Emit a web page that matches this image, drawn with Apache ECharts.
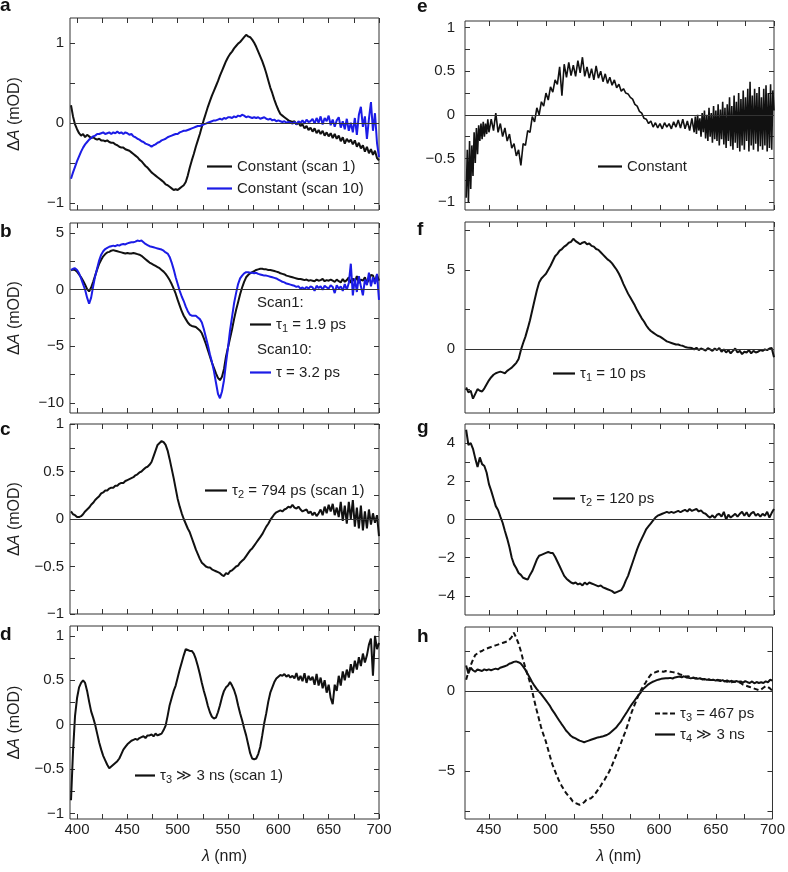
<!DOCTYPE html>
<html><head><meta charset="utf-8">
<script src="https://cdn.jsdelivr.net/npm/echarts@6/dist/echarts.min.js"></script>
<style>html,body{margin:0;padding:0;background:#fff}#c{width:788px;height:872px}</style>
</head><body><div id="c"></div>
<script>
// ---------- wavelength grids (nm) ----------
const wlLeft = [
394,396,398,400,402,404,406,408,410,412,
414,416,418,420,422,424,426,428,430,432,
434,436,438,440,442,444,446,448,450,452,
454,456,458,460,462,464,466,468,470,472,
474,476,478,480,482,484,486,488,490,492,
494,496,498,500,502,504,506,508,510,512,
514,516,518,520,522,524,526,528,530,532,
534,536,538,540,542,544,546,548,550,552,
554,556,558,560,562,564,566,568,570,572,
574,576,578,580,582,584,586,588,590,592,
594,596,598,600,602,604,606,608,610,612,
614,616,618,620,622,624,626,628,630,632,
634,636,638,640,642,644,646,648,650,652,
654,656,658,660,662,664,666,668,670,672,
674,676,678,680,682,684,686,688,690,692,
694,696,698,700];
const wlRight = [
430,432,434,436,438,440,442,444,446,448,
450,452,454,456,458,460,462,464,466,468,
470,472,474,476,478,480,482,484,486,488,
490,492,494,496,498,500,502,504,506,508,
510,512,514,516,518,520,522,524,526,528,
530,532,534,536,538,540,542,544,546,548,
550,552,554,556,558,560,562,564,566,568,
570,572,574,576,578,580,582,584,586,588,
590,592,594,596,598,600,602,604,606,608,
610,612,614,616,618,620,622,624,626,628,
630,632,634,636,638,640,642,644,646,648,
650,652,654,656,658,660,662,664,666,668,
670,672,674,676,678,680,682,684,686,688,
690,692,694,696,698,700];
// finer grid for the very noisy "Constant" spectrum of panel e
const wlE = [
430,431,432,433,434,435,436,437,438,439,440,441,442,443,444,445,446,447,448,449,450,
452,454,456,458,460,462,464,466,468,
470,472,474,476,478,480,482,484,486,488,
490,492,494,496,498,500,502,504,506,508,
510,512,514,516,518,520,522,524,526,528,
530,532,534,536,538,540,542,544,546,548,
550,552,554,556,558,560,562,564,566,568,
570,572,574,576,578,580,582,584,586,588,
590,592,594,596,598,600,602,604,606,608,
610,612,614,616,618,620,622,624,626,628,
629,630,631,632,633,634,635,636,637,638,639,
640,641,642,643,644,645,646,647,648,649,
650,651,652,653,654,655,656,657,658,659,
660,661,662,663,664,665,666,667,668,669,
670,671,672,673,674,675,676,677,678,679,
680,681,682,683,684,685,686,687,688,689,
690,691,692,693,694,695,696,697,698,699,700];

// ---------- tick values / labels ----------
const xTicksLeft = [400,425,450,475,500,525,550,575,600,625,650,675,700];
const xLabelsLeft = [400,450,500,550,600,650,700];
const xTicksRight = [450,475,500,525,550,575,600,625,650,675,700];
const xLabelsRight = [450,500,550,600,650,700];
const yTicksA = [-1,-0.5,0,0.5,1];            const yLabelsA = [-1,0,1];
const yTicksB = [-10,-7.5,-5,-2.5,0,2.5,5];   const yLabelsB = [-10,-5,0,5];
const yTicksQ = [-1,-0.75,-0.5,-0.25,0,0.25,0.5,0.75,1]; const yLabelsQ = [-1,-0.5,0,0.5,1];
const yTicksF = [-2.5,0,2.5,5,7.5];           const yLabelsF = [0,5];
const yTicksG = [-4,-3,-2,-1,0,1,2,3,4];      const yLabelsG = [-4,-2,0,2,4];
const yTicksH = [-7.5,-5,-2.5,0,2.5];         const yLabelsH = [-5,0];

// ---------- series values (mOD) ----------
const aScan1 = [
0.22,0.08,-0.02,-0.08,-0.13,-0.16,-0.14,-0.18,-0.15,-0.17,
-0.19,-0.18,-0.2,-0.21,-0.2,-0.22,-0.22,-0.23,-0.22,-0.24,
-0.25,-0.25,-0.27,-0.28,-0.3,-0.31,-0.31,-0.33,-0.34,-0.35,
-0.37,-0.39,-0.41,-0.43,-0.46,-0.48,-0.51,-0.54,-0.56,-0.59,
-0.62,-0.64,-0.66,-0.68,-0.7,-0.72,-0.74,-0.77,-0.78,-0.8,
-0.82,-0.84,-0.83,-0.84,-0.82,-0.8,-0.78,-0.74,-0.66,-0.56,
-0.47,-0.39,-0.3,-0.22,-0.14,-0.05,0.04,0.12,0.2,0.27,
0.34,0.4,0.46,0.52,0.59,0.65,0.71,0.77,0.82,0.86,
0.89,0.93,0.96,0.99,1.01,1.04,1.07,1.1,1.08,1.07,
1.04,1.0,0.95,0.89,0.83,0.77,0.7,0.62,0.53,0.44,
0.37,0.29,0.22,0.16,0.11,0.09,0.07,0.05,0.03,0.02,
0.01,0.02,-0.02,0.0,-0.04,-0.02,-0.07,-0.04,-0.09,-0.06,
-0.11,-0.07,-0.13,-0.09,-0.14,-0.1,-0.16,-0.12,-0.17,-0.13,
-0.19,-0.14,-0.2,-0.16,-0.23,-0.18,-0.26,-0.2,-0.24,-0.21,
-0.27,-0.22,-0.3,-0.25,-0.32,-0.28,-0.36,-0.3,-0.38,-0.33,
-0.4,-0.35,-0.44,-0.47];
const aScan10 = [
-0.7,-0.62,-0.55,-0.48,-0.42,-0.36,-0.31,-0.27,-0.24,-0.21,
-0.19,-0.17,-0.16,-0.14,-0.14,-0.13,-0.12,-0.14,-0.13,-0.12,
-0.14,-0.12,-0.13,-0.11,-0.13,-0.12,-0.14,-0.12,-0.13,-0.15,
-0.14,-0.17,-0.18,-0.2,-0.21,-0.23,-0.24,-0.26,-0.27,-0.28,
-0.3,-0.28,-0.27,-0.25,-0.24,-0.22,-0.21,-0.2,-0.18,-0.17,
-0.16,-0.15,-0.14,-0.14,-0.12,-0.11,-0.1,-0.1,-0.09,-0.08,
-0.07,-0.06,-0.05,-0.04,-0.04,-0.03,-0.02,-0.01,0.0,0.01,
0.02,0.03,0.03,0.04,0.05,0.04,0.06,0.05,0.07,0.07,
0.06,0.08,0.07,0.09,0.08,0.1,0.09,0.07,0.08,0.07,
0.06,0.07,0.06,0.07,0.05,0.06,0.07,0.05,0.04,0.05,
0.03,0.04,0.02,0.03,0.02,0.01,0.02,0.0,0.01,0.0,
-0.01,0.01,-0.02,0.02,0.0,0.03,-0.01,0.04,0.01,0.02,
0.05,-0.01,0.06,0.0,0.08,-0.02,0.06,0.02,0.09,-0.03,
0.04,-0.05,0.03,0.07,-0.06,0.02,-0.08,0.05,-0.1,0.0,
-0.12,0.06,-0.15,0.1,0.2,-0.05,0.08,-0.2,0.05,0.26,
-0.1,0.12,-0.25,-0.43];
const bScan1 = [
1.72,1.78,1.74,1.6,1.35,1.1,0.8,0.45,0.05,-0.15,
0.2,0.7,1.25,1.8,2.3,2.65,2.95,3.15,3.3,3.35,
3.45,3.5,3.45,3.4,3.35,3.3,3.25,3.2,3.25,3.2,
3.2,3.25,3.2,3.15,3.1,3.0,2.85,2.7,2.55,2.4,
2.3,2.2,2.1,2.0,1.9,1.75,1.6,1.4,1.15,0.85,
0.5,0.1,-0.35,-0.9,-1.4,-1.9,-2.3,-2.6,-2.9,-3.1,
-3.2,-3.25,-3.3,-3.45,-3.6,-3.85,-4.3,-4.8,-5.35,-5.9,
-6.45,-6.9,-7.4,-7.8,-8.0,-7.7,-7.0,-5.9,-5.1,-4.3,
-3.5,-2.6,-1.8,-1.1,-0.4,0.2,0.7,1.1,1.3,1.45,
1.55,1.65,1.75,1.8,1.85,1.85,1.8,1.8,1.75,1.75,
1.7,1.65,1.6,1.55,1.45,1.4,1.35,1.25,1.2,1.15,
1.1,1.05,1.0,0.95,0.95,0.9,0.85,0.9,0.8,0.85,
0.8,0.75,0.9,0.8,0.85,0.95,0.75,0.85,0.8,0.9,
0.8,0.7,0.9,0.75,0.65,0.95,0.7,0.85,1.1,0.6,
1.0,0.7,1.2,0.6,0.9,0.8,1.1,0.6,0.9,1.3,
1.26,0.7,1.3,0.8];
const bScan10 = [
1.75,1.85,1.9,1.75,1.45,1.0,0.5,0.0,-0.7,-1.24,
-0.7,0.3,1.2,1.9,2.6,3.1,3.4,3.6,3.7,3.8,
3.85,3.9,3.85,3.95,3.9,4.0,4.05,4.0,4.1,4.15,
4.2,4.2,4.25,4.35,4.3,4.35,4.2,4.05,3.95,3.85,
3.8,3.75,3.7,3.65,3.6,3.55,3.45,3.3,3.2,2.9,
2.4,1.8,1.1,0.5,-0.1,-0.6,-1.0,-1.5,-1.9,-2.2,
-2.3,-2.3,-2.3,-2.45,-2.6,-2.9,-3.5,-4.2,-4.9,-5.7,
-6.4,-7.2,-8.2,-9.2,-9.6,-9.0,-8.0,-6.5,-5.1,-3.6,
-2.4,-1.2,-0.3,0.5,1.0,1.25,1.45,1.55,1.55,1.5,
1.5,1.45,1.5,1.4,1.35,1.3,1.25,1.25,1.2,1.15,
1.1,1.05,1.0,0.9,0.8,0.7,0.65,0.55,0.5,0.45,
0.4,0.35,0.25,0.3,0.1,0.2,0.05,0.25,0.1,0.3,
0.2,-0.1,0.35,0.15,0.3,0.0,0.35,0.2,0.1,0.4,
0.25,-0.3,0.4,0.1,0.3,-0.1,0.5,0.0,0.6,2.3,
-0.5,1.0,-0.2,1.2,0.3,-0.5,0.9,0.4,1.5,0.3,
1.1,0.5,1.4,-0.9];
const cTau2 = [
0.08,0.05,0.04,0.02,0.02,0.03,0.05,0.08,0.1,0.12,
0.15,0.17,0.2,0.22,0.24,0.27,0.28,0.3,0.3,0.32,
0.33,0.33,0.35,0.35,0.37,0.38,0.38,0.4,0.41,0.42,
0.43,0.44,0.46,0.47,0.49,0.5,0.52,0.54,0.55,0.57,
0.6,0.66,0.72,0.78,0.8,0.82,0.81,0.78,0.72,0.63,
0.53,0.43,0.32,0.21,0.13,0.06,0.0,-0.05,-0.1,-0.14,
-0.2,-0.26,-0.32,-0.37,-0.42,-0.46,-0.48,-0.5,-0.51,-0.51,
-0.53,-0.54,-0.55,-0.56,-0.57,-0.59,-0.6,-0.57,-0.58,-0.55,
-0.54,-0.52,-0.5,-0.49,-0.46,-0.44,-0.42,-0.39,-0.36,-0.33,
-0.31,-0.28,-0.25,-0.22,-0.19,-0.16,-0.12,-0.08,-0.05,-0.01,
0.02,0.05,0.07,0.08,0.09,0.08,0.1,0.11,0.13,0.12,
0.15,0.12,0.11,0.13,0.1,0.08,0.09,0.1,0.06,0.08,
0.04,0.07,0.03,0.06,0.1,0.04,0.13,0.06,0.15,0.08,
0.16,0.04,0.12,0.02,0.18,-0.02,0.14,-0.05,0.18,0.0,
0.2,-0.08,0.12,-0.1,0.14,-0.12,0.08,-0.1,0.1,-0.06,
0.06,-0.04,0.04,-0.18];
const dTau3 = [
-0.85,-0.3,0.1,0.3,0.42,0.47,0.5,0.47,0.38,0.26,
0.15,0.08,0.0,-0.1,-0.2,-0.28,-0.35,-0.4,-0.45,-0.49,
-0.47,-0.45,-0.43,-0.41,-0.38,-0.33,-0.28,-0.25,-0.22,-0.2,
-0.18,-0.17,-0.16,-0.17,-0.15,-0.14,-0.13,-0.15,-0.12,-0.12,
-0.11,-0.13,-0.1,-0.12,-0.11,-0.1,-0.06,-0.01,0.1,0.22,
0.3,0.38,0.44,0.53,0.62,0.7,0.78,0.85,0.84,0.83,
0.83,0.8,0.74,0.66,0.57,0.47,0.38,0.3,0.21,0.14,
0.09,0.07,0.08,0.14,0.22,0.31,0.38,0.42,0.44,0.48,
0.44,0.39,0.32,0.22,0.13,0.05,-0.04,-0.12,-0.22,-0.32,
-0.38,-0.39,-0.38,-0.33,-0.25,-0.12,0.02,0.13,0.26,0.36,
0.42,0.48,0.52,0.54,0.56,0.55,0.57,0.54,0.56,0.53,
0.55,0.52,0.58,0.5,0.55,0.49,0.58,0.47,0.55,0.5,
0.54,0.45,0.57,0.44,0.53,0.41,0.5,0.36,0.45,0.3,
0.23,0.45,0.38,0.55,0.44,0.6,0.5,0.62,0.53,0.68,
0.58,0.72,0.62,0.76,0.66,0.8,0.7,0.78,0.9,0.97,
0.55,1.0,0.85,0.92];
const eConst = [
-0.95,-0.4,-1.0,-0.3,-0.85,-0.35,-0.7,-0.2,-0.55,-0.15,-0.45,-0.12,-0.3,-0.1,-0.28,-0.08,-0.25,-0.1,-0.22,-0.05,-0.2,
-0.05,-0.18,0.02,-0.2,-0.1,-0.25,-0.15,-0.3,-0.22,
-0.38,-0.33,-0.47,-0.4,-0.58,-0.33,-0.35,-0.18,-0.2,-0.02,
-0.08,0.08,0.0,0.15,0.1,0.25,0.17,0.32,0.26,0.4,
0.35,0.55,0.22,0.58,0.43,0.6,0.45,0.57,0.44,0.62,
0.48,0.66,0.44,0.55,0.42,0.53,0.4,0.56,0.42,0.5,
0.38,0.47,0.36,0.43,0.34,0.4,0.31,0.35,0.27,0.3,
0.25,0.24,0.2,0.18,0.12,0.1,0.04,0.02,-0.04,-0.05,
-0.1,-0.07,-0.14,-0.09,-0.15,-0.1,-0.16,-0.09,-0.14,-0.1,
-0.16,-0.08,-0.14,-0.06,-0.15,-0.05,-0.16,-0.07,-0.18,-0.04,
-0.12,-0.2,-0.02,-0.22,0.0,-0.18,-0.04,-0.25,0.02,-0.2,0.05,
-0.27,0.0,-0.3,0.08,-0.25,0.02,-0.32,0.1,-0.28,0.05,
-0.3,0.12,-0.35,0.06,-0.28,0.15,-0.34,0.08,-0.38,0.12,
-0.3,0.2,-0.36,0.1,-0.4,0.22,-0.32,0.15,-0.38,0.25,
-0.42,0.18,-0.35,0.28,-0.4,0.2,-0.3,0.3,-0.42,0.38,
-0.35,0.22,-0.4,0.3,-0.33,0.25,-0.42,0.32,-0.36,0.2,
-0.4,0.3,-0.35,0.34,-0.42,0.25,-0.38,0.35,-0.4,0.28,0.05];
const fTau1 = [
-2.4,-2.7,-2.6,-3.1,-2.8,-2.5,-2.6,-2.65,-2.45,-2.2,
-1.95,-1.75,-1.6,-1.5,-1.45,-1.4,-1.45,-1.5,-1.35,-1.25,
-1.15,-1.0,-0.85,-0.6,-0.05,0.4,0.8,1.3,1.83,2.45,
3.08,3.7,4.2,4.45,4.6,4.75,5.0,5.25,5.55,5.85,
6.0,6.2,6.3,6.45,6.55,6.7,6.75,6.95,6.8,6.7,
6.6,6.7,6.75,6.6,6.65,6.5,6.45,6.3,6.25,6.1,
5.95,5.8,5.65,5.55,5.4,5.2,5.0,4.75,4.45,4.1,
3.8,3.5,3.25,3.0,2.75,2.45,2.2,1.95,1.75,1.5,
1.3,1.15,1.05,0.95,0.85,0.8,0.7,0.6,0.5,0.45,
0.4,0.35,0.3,0.3,0.25,0.22,0.15,0.12,0.1,0.08,
0.0,0.1,-0.05,0.05,0.0,-0.08,0.08,0.0,-0.1,0.05,
-0.05,0.08,-0.15,0.0,-0.2,-0.05,-0.25,-0.1,0.05,-0.2,
-0.1,-0.3,-0.15,-0.2,-0.05,-0.25,-0.1,-0.2,-0.15,-0.05,
-0.1,0.0,-0.05,0.05,0.08,-0.5];
const gTau2 = [
4.7,3.9,4.0,3.7,3.2,2.75,3.25,2.9,2.8,2.45,
1.85,1.5,1.1,0.7,0.5,0.15,-0.17,-0.6,-1.0,-1.45,
-2.0,-2.35,-2.55,-2.8,-2.9,-3.05,-3.1,-3.15,-2.9,-2.7,
-2.4,-2.1,-1.9,-1.85,-1.8,-1.75,-1.7,-1.75,-1.75,-1.95,
-2.2,-2.45,-2.7,-2.95,-3.1,-3.2,-3.3,-3.35,-3.3,-3.4,
-3.35,-3.45,-3.3,-3.4,-3.3,-3.35,-3.4,-3.45,-3.5,-3.45,
-3.55,-3.6,-3.65,-3.7,-3.75,-3.85,-3.8,-3.75,-3.7,-3.5,
-3.2,-2.95,-2.6,-2.25,-1.9,-1.55,-1.25,-1.0,-0.75,-0.5,
-0.35,-0.2,-0.05,0.1,0.2,0.25,0.3,0.35,0.4,0.35,
0.4,0.35,0.4,0.45,0.38,0.45,0.5,0.42,0.55,0.45,
0.5,0.55,0.42,0.48,0.35,0.3,0.18,0.1,0.22,0.08,
0.25,0.3,0.15,0.4,0.0,0.25,0.1,0.2,0.3,0.15,
0.3,0.4,0.2,0.38,0.15,0.32,0.4,0.2,0.3,0.15,
0.3,0.2,0.4,0.1,0.35,0.55];
const hTau3 = [
0.7,1.2,1.6,1.95,2.25,2.35,2.45,2.5,2.6,2.65,
2.7,2.75,2.8,2.85,2.9,2.95,3.0,3.05,3.1,3.2,
3.35,3.65,3.35,3.0,2.55,2.0,1.5,1.05,0.6,0.05,
-0.57,-1.15,-1.7,-2.25,-2.7,-3.1,-3.6,-4.1,-4.58,-4.95,
-5.3,-5.63,-5.9,-6.15,-6.37,-6.55,-6.7,-6.9,-7.0,-7.05,
-7.11,-7.05,-6.95,-6.8,-6.75,-6.7,-6.58,-6.4,-6.2,-6.0,
-5.75,-5.55,-5.3,-5.05,-4.75,-4.4,-4.05,-3.7,-3.35,-2.95,
-2.6,-2.2,-1.75,-1.3,-0.95,-0.6,-0.25,0.05,0.3,0.5,
0.75,0.95,1.1,1.15,1.2,1.25,1.22,1.2,1.25,1.22,
1.2,1.18,1.15,1.12,1.05,1.0,0.95,0.9,0.92,0.85,
0.85,0.8,0.82,0.78,0.75,0.72,0.7,0.72,0.68,0.7,
0.7,0.65,0.68,0.6,0.62,0.58,0.6,0.55,0.6,0.58,
0.55,0.5,0.4,0.35,0.3,0.25,0.2,0.15,0.1,0.05,
0.1,0.2,0.3,0.25,0.15,0.0];
const hTau4 = [
1.6,1.1,1.45,1.3,1.2,1.35,1.3,1.25,1.35,1.3,
1.35,1.3,1.35,1.4,1.35,1.45,1.5,1.55,1.6,1.7,
1.75,1.82,1.85,1.8,1.72,1.55,1.35,1.1,0.85,0.58,
0.35,0.15,-0.02,-0.18,-0.37,-0.55,-0.75,-0.95,-1.2,-1.4,
-1.62,-1.84,-2.05,-2.25,-2.47,-2.62,-2.78,-2.89,-2.95,-3.03,
-3.1,-3.15,-3.2,-3.15,-3.1,-3.05,-3.0,-2.95,-2.9,-2.88,
-2.85,-2.8,-2.75,-2.67,-2.55,-2.42,-2.3,-2.12,-1.95,-1.72,
-1.5,-1.28,-1.05,-0.83,-0.64,-0.45,-0.25,-0.08,0.12,0.25,
0.38,0.48,0.56,0.62,0.68,0.72,0.76,0.78,0.8,0.8,
0.82,0.78,0.85,0.88,0.9,0.86,0.92,0.85,0.82,0.8,
0.82,0.78,0.76,0.8,0.72,0.76,0.7,0.72,0.68,0.7,
0.65,0.7,0.62,0.68,0.6,0.66,0.58,0.64,0.55,0.62,
0.58,0.6,0.52,0.62,0.55,0.5,0.6,0.48,0.56,0.5,
0.55,0.5,0.6,0.55,0.7,0.65];

// ---------- styling ----------
const FONT = '"Liberation Sans", Arial, Helvetica, sans-serif';
const TXT = '#1e1e1e';
const AX = '#333333';
const BLACK = '#111111';
const BLUE = '#1c1ce6';

const panels = [
  {letter:'a', col:'L', top:18,  h:192, yMin:-1.09, yMax:1.31, yT:yTicksA, yL:yLabelsA, xLab:false},
  {letter:'b', col:'L', top:223, h:190, yMin:-10.9, yMax:5.9,  yT:yTicksB, yL:yLabelsB, xLab:false},
  {letter:'c', col:'L', top:424, h:190, yMin:-1,    yMax:1,    yT:yTicksQ, yL:yLabelsQ, xLab:false},
  {letter:'d', col:'L', top:626, h:193, yMin:-1.06, yMax:1.11, yT:yTicksQ, yL:yLabelsQ, xLab:true},
  {letter:'e', col:'R', top:21,  h:189, yMin:-1.09, yMax:1.075,yT:yTicksQ, yL:yLabelsQ, xLab:false},
  {letter:'f', col:'R', top:222, h:191, yMin:-4,    yMax:8,    yT:yTicksF, yL:yLabelsF, xLab:false},
  {letter:'g', col:'R', top:424, h:191, yMin:-5,    yMax:5,    yT:yTicksG, yL:yLabelsG, xLab:false},
  {letter:'h', col:'R', top:627, h:192, yMin:-8,    yMax:4,    yT:yTicksH, yL:yLabelsH, xLab:true}
];

const fmt = v => String(v).replace('-', '\u2212');
const tick = vals => ({show:true, inside:true, length:5, customValues:vals, lineStyle:{color:AX, width:1}});
const lblStyle = {fontSize:15, color:TXT, fontFamily:FONT};
const nameRich = {
  i:{fontStyle:'italic', fontSize:16, color:TXT, fontFamily:FONT},
  n:{fontSize:16, color:TXT, fontFamily:FONT}
};

const grids = [], xAxes = [], yAxes = [];
panels.forEach((p, i) => {
  const L = p.col === 'L';
  const xMin = L ? 393 : 429;
  const xT = L ? xTicksLeft : xTicksRight;
  const xL = L ? xLabelsLeft : xLabelsRight;
  grids.push({left: L ? 70 : 465, top:p.top, width:309, height:p.h, show:true,
              borderColor:AX, borderWidth:1, backgroundColor:'transparent'});
  const xb = {type:'value', gridIndex:i, position:'bottom', min:xMin, max:700,
    axisLine:{show:false, onZero:false}, splitLine:{show:false}, axisTick:tick(xT),
    axisLabel: p.xLab ? Object.assign({show:true, customValues:xL, margin:3, formatter:fmt}, lblStyle) : {show:false}};
  if (p.xLab) {
    xb.name = '{i|\u03bb}{n| (nm)}';
    xb.nameLocation = 'middle';
    xb.nameGap = 30;
    xb.nameTextStyle = {fontSize:16, color:TXT, fontFamily:FONT, rich:nameRich};
  }
  xAxes.push(xb);
  xAxes.push({type:'value', gridIndex:i, position:'top', min:xMin, max:700,
    axisLine:{show:false, onZero:false}, splitLine:{show:false}, axisTick:tick(xT), axisLabel:{show:false}});
  const yl = {type:'value', gridIndex:i, position:'left', min:p.yMin, max:p.yMax,
    axisLine:{show:false, onZero:false}, splitLine:{show:false}, axisTick:tick(p.yT),
    axisLabel:Object.assign({show:true, customValues:p.yL, margin: L ? 6 : 10, formatter:fmt}, lblStyle)};
  if (L) {
    yl.name = '{n|\u0394}{i|A}{n| (mOD)}';
    yl.nameLocation = 'middle';
    yl.nameGap = 47;
    yl.nameRotate = 90;
    yl.nameTextStyle = {fontSize:16, color:TXT, fontFamily:FONT, rich:nameRich};
  }
  yAxes.push(yl);
  yAxes.push({type:'value', gridIndex:i, position:'right', min:p.yMin, max:p.yMax,
    axisLine:{show:false, onZero:false}, splitLine:{show:false}, axisTick:tick(p.yT), axisLabel:{show:false}});
});

const zeroLine = {silent:true, symbol:'none', animation:false, label:{show:false},
  lineStyle:{color:AX, width:1, type:'solid'}, data:[{yAxis:0}]};

function line(name, panel, wl, vals, color, dashed, withZero, width) {
  const s = {name, type:'line', xAxisIndex:panel*2, yAxisIndex:panel*2,
    data: wl.map((x, k) => [x, vals[k]]), symbol:'none', showSymbol:false,
    lineStyle:{color, width: width || 2, type: dashed ? [5,3] : 'solid'}, itemStyle:{color},
    z: 3, clip:true};
  if (withZero) s.markLine = zeroLine;
  return s;
}

const series = [
  line('Constant (scan 1)', 0, wlLeft, aScan1, BLACK, false, true),
  line('Constant (scan 10)', 0, wlLeft, aScan10, BLUE, false, false),
  line('b1', 1, wlLeft, bScan1, BLACK, false, true),
  line('b10', 1, wlLeft, bScan10, BLUE, false, false),
  line('c2', 2, wlLeft, cTau2, BLACK, false, true),
  line('d3', 3, wlLeft, dTau3, BLACK, false, true),
  line('Constant', 4, wlE, eConst, BLACK, false, true, 1.6),
  line('f1', 5, wlRight, fTau1, BLACK, false, true),
  line('g2', 6, wlRight, gTau2, BLACK, false, true),
  line('h3', 7, wlRight, hTau3, BLACK, true, true),
  line('h4', 7, wlRight, hTau4, BLACK, false, false)
];

const legendText = {
  'Constant (scan 1)': '{t|Constant (scan 1)}',
  'Constant (scan 10)': '{t|Constant (scan 10)}',
  'b1': '{t|\u03c4}{s|1}{t| = 1.9 ps}',
  'b10': '{t|\u03c4 = 3.2 ps}',
  'c2': '{t|\u03c4}{s|2}{t| = 794 ps (scan 1)}',
  'd3': '{t|\u03c4}{s|3}{t| \u226b 3 ns (scan 1)}',
  'Constant': '{t|Constant}',
  'f1': '{t|\u03c4}{s|1}{t| = 10 ps}',
  'g2': '{t|\u03c4}{s|2}{t| = 120 ps}',
  'h3': '{t|\u03c4}{s|3}{t| = 467 ps}',
  'h4': '{t|\u03c4}{s|4}{t| \u226b 3 ns}'
};
const legRich = {
  t:{fontSize:15, color:TXT, fontFamily:FONT, lineHeight:16},
  s:{fontSize:11, color:TXT, fontFamily:FONT, padding:[8,0,0,0], lineHeight:16}
};
const SOLID_ICON = 'path://M0,0H20V2H0Z';
const DASH_ICON = 'path://M0,0H5V2H0Z M7.5,0H12.5V2H7.5Z M15,0H20V2H15Z';
function leg(names, left, top, itemWidth, gap) {
  return {show:true, orient:'vertical', left, top,
    data:names.map(n => ({name:n, icon: n === 'h3' ? DASH_ICON : SOLID_ICON})),
    itemWidth, itemHeight:2.2, itemGap:gap, padding:0, selectedMode:false, symbolKeepAspect:false,
    itemStyle:{borderWidth:0},
    formatter: n => legendText[n], textStyle:{fontSize:15, color:TXT, fontFamily:FONT, rich:legRich}};
}
const legends = [
  leg(['Constant (scan 1)','Constant (scan 10)'], 207, 159, 25, 7),
  leg(['b1'], 250, 315, 21, 0),
  leg(['b10'], 250, 365, 21, 0),
  leg(['c2'], 205, 481, 22, 0),
  leg(['d3'], 135, 766, 20, 0),
  leg(['Constant'], 598, 159, 24, 0),
  leg(['f1'], 553, 364, 22, 0),
  leg(['g2'], 553, 489, 22, 0),
  leg(['h3','h4'], 655, 704, 20, 2)
];

const letterPos = [
  ['a', 0, -4], ['b', 0, 222], ['c', 0, 420], ['d', 0, 625],
  ['e', 417, -3], ['f', 417, 220], ['g', 417, 418], ['h', 417, 627]
];
const graphics = letterPos.map(([t, x, y]) => ({type:'text', left:x, top:y, silent:true,
  style:{text:t, fill:'#111', font:'700 19px ' + FONT}}));
graphics.push({type:'text', left:257, top:295, silent:true, style:{text:'Scan1:', fill:TXT, font:'15px ' + FONT}});
graphics.push({type:'text', left:257, top:342, silent:true, style:{text:'Scan10:', fill:TXT, font:'15px ' + FONT}});

const chart = echarts.init(document.getElementById('c'), null, {renderer:'canvas', width:788, height:872});
chart.setOption({
  animation:false,
  backgroundColor:'#ffffff',
  textStyle:{fontFamily:FONT},
  grid:grids, xAxis:xAxes, yAxis:yAxes, series, legend:legends, graphic:graphics
});
</script></body></html>
